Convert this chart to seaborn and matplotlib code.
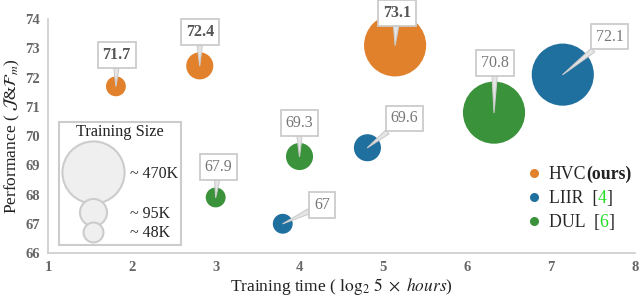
import numpy as np
import pandas as pd
import matplotlib
matplotlib.use("Agg")
import matplotlib.pyplot as plt
import seaborn as sns
from matplotlib.lines import Line2D
from matplotlib.patches import Rectangle

# data
methods = ["HVC", "HVC", "HVC", "LIIR", "LIIR", "LIIR", "DUL", "DUL", "DUL"]
train_time = [1.81, 2.81, 5.14, 3.80, 4.81, 7.14, 3.00, 4.00, 6.32]
performance = [71.7, 72.4, 73.1, 67.0, 69.6, 72.1, 67.9, 69.3, 70.8]
train_size = [48, 95, 470, 48, 95, 470, 48, 95, 470]
size_labels = {470: "~ 470K", 95: "~ 95K", 48: "~ 48K"}

# where the callout boxes sit (data coords)
label_x = [1.82, 2.81, 5.16, 4.27, 5.25, 7.70, 3.03, 4.00, 6.33]
label_y = [72.77, 73.55, 74.20, 67.64, 70.60, 73.40, 68.95, 70.45, 72.50]

palette = {"HVC": "#E1812C", "LIIR": "#1F6F9F", "DUL": "#3A923A"}
sizes = {48: 205, 95: 380, 470: 2000}

df = pd.DataFrame({"method": methods, "time": train_time,
                   "perf": performance, "size": train_size})

sns.set_style("white")
plt.rcParams["font.family"] = ["Liberation Serif", "DejaVu Serif"]
plt.rcParams["mathtext.fontset"] = "stix"

fig, ax = plt.subplots(figsize=(6.4, 2.98), dpi=100)
fig.subplots_adjust(left=0.075, right=0.992, bottom=0.151, top=0.936)

sns.scatterplot(data=df, x="time", y="perf", hue="method", size="size",
                sizes=sizes, palette=palette, linewidth=0, legend=False,
                ax=ax, zorder=3)

ax.set_xlim(1, 8)
ax.set_ylim(66, 74)
ax.set_xticks(range(1, 9))
ax.set_yticks(range(66, 75))

# callout labels
for m, x, y, lx, ly in zip(methods, train_time, performance, label_x, label_y):
    ours = m == "HVC"
    ax.annotate(f"{y:g}", xy=(x, y), xytext=(lx, ly), textcoords="data",
                ha="center", va="center", fontsize=11.5,
                color="#555555" if ours else "#777777",
                fontweight="bold" if ours else "normal",
                bbox=dict(boxstyle="square,pad=0.3", fc="white", ec="#cccccc", lw=1.3),
                arrowprops=dict(arrowstyle="wedge,tail_width=0.32", fc="#e6e6e6",
                                ec="#cccccc", lw=0.8, shrinkA=0, shrinkB=0),
                annotation_clip=False, zorder=4)

# training size key
ax.add_patch(Rectangle((0.019, 0.034), 0.208, 0.526, transform=ax.transAxes,
                       fc="white", ec="#cccccc", lw=1.5, zorder=2))
ax.text(0.123, 0.517, "Training Size", transform=ax.transAxes, ha="center",
        va="center", fontsize=11.8, color="#222222", zorder=3)
key_y = {470: 0.346, 95: 0.175, 48: 0.090}
lab_y = {470: 0.338, 95: 0.167, 48: 0.085}
for s in [470, 95, 48]:
    ax.scatter([0.077], [key_y[s]], s=sizes[s], transform=ax.transAxes,
               c="#efefef", edgecolors="#cccccc", linewidths=1.5, zorder=3)
    ax.text(0.14, lab_y[s], size_labels[s], transform=ax.transAxes,
            ha="left", va="center", fontsize=11.5, color="#222222", zorder=3)

# method legend
handles = [Line2D([], [], marker="o", ls="", markersize=6.5, color=palette[m],
                  markeredgewidth=0) for m in ["HVC", "LIIR", "DUL"]]
leg = ax.legend(handles, ["HVC", "LIIR  [", "DUL  ["], loc="center left",
                bbox_to_anchor=(0.815, 0.232), frameon=False, fontsize=12.8,
                handletextpad=0.35, labelspacing=0.38, borderpad=0,
                borderaxespad=0, handlelength=0.9)
texts = leg.get_texts()
fig.canvas.draw()


def append(prev, s, **kw):
    t = ax.annotate(s, xy=(1, 0), xycoords=prev, ha="left", va="bottom",
                    fontsize=12.8, annotation_clip=False, **kw)
    fig.canvas.draw()
    return t


append(texts[0], "(ours)", fontweight="bold", color="#222222")
for t, num in zip(texts[1:], ["4", "6"]):
    g = append(t, num, color="#22dd22")
    append(g, "]", color="#222222")

# axes styling
sns.despine(ax=ax)
for sp in ["left", "bottom"]:
    ax.spines[sp].set_color("#cccccc")
    ax.spines[sp].set_linewidth(1.2)
ax.tick_params(axis="both", direction="out", length=4, width=1,
               color="#cccccc", labelcolor="#666666", labelsize=10.5, pad=2)
for lbl in ax.get_xticklabels() + ax.get_yticklabels():
    lbl.set_fontweight("bold")

ax.set_xlabel(r"Training time ( $\log_2\,5\ \times\ hours$)", fontsize=12.5,
              color="#222222", labelpad=1)
ax.set_ylabel(r"Performance ( $\mathcal{J}$&$\mathcal{F}_m$)", fontsize=12.5,
              color="#222222", labelpad=2)

plt.savefig("out.png", dpi=100)
